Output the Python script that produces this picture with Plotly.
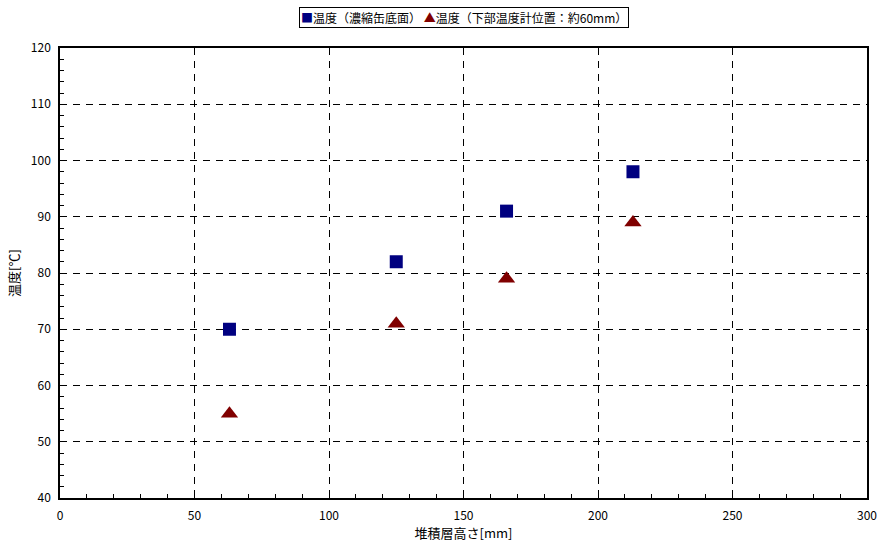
import plotly.graph_objects as go

heights = [63, 125, 166, 213]
temp_bottom = [70, 82, 91, 98]
temp_lower = [55, 71, 79, 89]
name_bottom = "温度（濃縮缶底面）"
name_lower = "温度（下部温度計位置：約60mm）"
x_title = "堆積層高さ[mm]"
y_title = "温度[℃]"

FONT = "Noto Sans CJK JP"
C_BOTTOM = "#000080"
C_LOWER = "#800000"

fig = go.Figure()
fig.add_trace(go.Scatter(x=heights, y=temp_bottom, mode="markers", name=name_bottom,
                         showlegend=False,
                         marker=dict(symbol="square", size=13, color=C_BOTTOM)))
fig.add_trace(go.Scatter(x=heights, y=temp_lower, mode="markers", name=name_lower,
                         showlegend=False,
                         marker=dict(symbol="triangle-up", size=15, color=C_LOWER)))

axis_common = dict(showline=True, linecolor="black", linewidth=1.5, mirror=True,
                   showgrid=True, gridcolor="black", gridwidth=1, griddash="7px,6px",
                   ticks="inside", ticklen=5, tickcolor="black", zeroline=False,
                   tickfont=dict(family=FONT, size=12, color="black"))

fig.update_xaxes(range=[0, 300], dtick=50, ticklabelstandoff=6,
                 minor=dict(dtick=10, ticks="inside", ticklen=4, tickcolor="black", showgrid=False),
                 title=dict(text=x_title, font=dict(family=FONT, size=13, color="black"), standoff=6),
                 **axis_common)
fig.update_yaxes(range=[40, 120], dtick=10, ticklabelstandoff=5,
                 minor=dict(dtick=2, ticks="inside", ticklen=4, tickcolor="black", showgrid=False),
                 title=dict(text=y_title, font=dict(family=FONT, size=13, color="black"), standoff=8),
                 **axis_common)

legend_text = (f"<span style='color:{C_BOTTOM}'>■</span>{name_bottom} "
               f"<span style='color:{C_LOWER}'>▲</span>{name_lower}")
fig.add_annotation(text=legend_text, xref="paper", yref="paper", x=0.5, y=1.0,
                   xanchor="center", yanchor="bottom", yshift=20, showarrow=False,
                   font=dict(family=FONT, size=12, color="black"),
                   bordercolor="black", borderwidth=1, borderpad=1, bgcolor="white")

fig.update_layout(
    width=880, height=545,
    margin=dict(l=60, r=13, t=48, b=47, autoexpand=False),
    paper_bgcolor="white", plot_bgcolor="white",
    font=dict(family=FONT, size=11, color="black"),
    showlegend=False,
)

fig.write_html("out.html")
